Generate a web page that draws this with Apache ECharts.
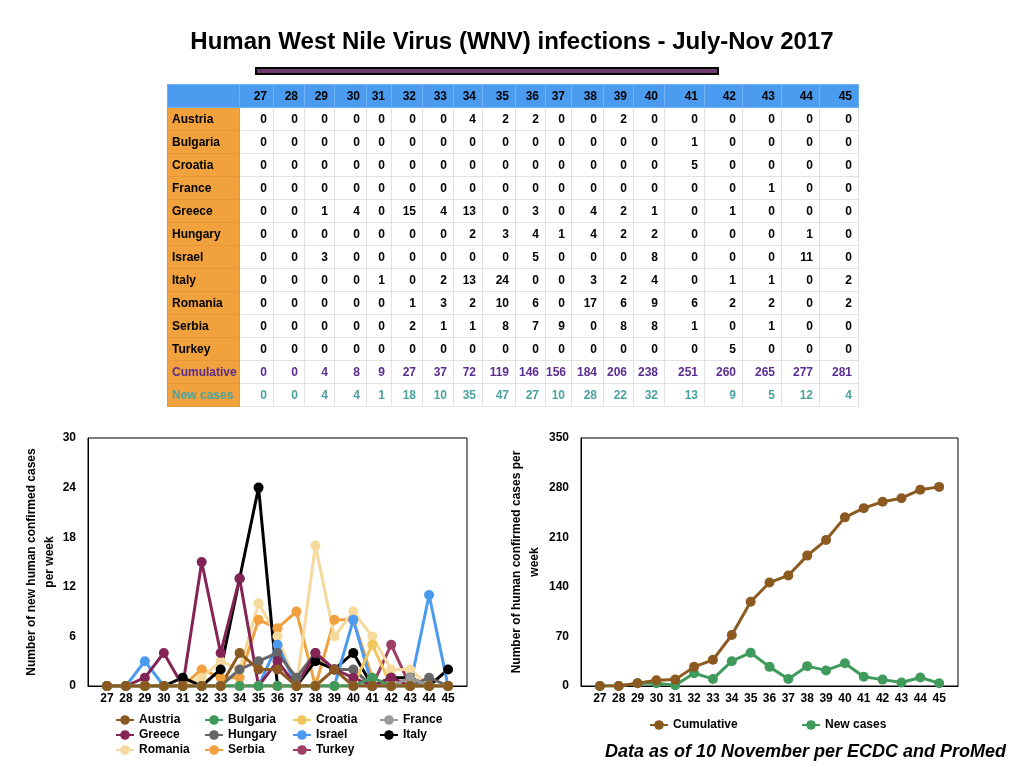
<!DOCTYPE html>
<html>
<head>
<meta charset="utf-8">
<script src="https://cdn.jsdelivr.net/npm/echarts@6/dist/echarts.min.js"></script>
<style>
  body { margin: 0; background: #fff; font-family: "Liberation Sans", Arial, sans-serif; }
  #main { position: absolute; left: 0; top: 0; width: 1024px; height: 768px; }
  #title { position: absolute; left: 0; top: 27px; width: 1024px; text-align: center;
           font-size: 24px; font-weight: bold; color: #000; z-index: 2; }
  #bar { position: absolute; left: 255px; top: 67px; width: 460px; height: 4px;
         background: #6e3a6e; border: 2px solid #000; z-index: 2; }
  #tbl { position: absolute; left: 167px; top: 84px; width: 691px; z-index: 2; border-collapse: collapse;
         table-layout: fixed; font-size: 12px; font-weight: bold; }
  #tbl td { height: 22px; padding: 0 6px 0 0; text-align: right; border: 1px solid #e2e2e2;
            color: #000; background: #fff; overflow: hidden; white-space: nowrap; }
  #tbl tr.head td { background: #4b9cf0; border-color: #6fb0f4; }
  #tbl td.lbl { background: #f1a23d; text-align: left; padding-left: 4px; border-color: #e8963a; }
  #tbl tr.cum td { color: #5b2c92; }
  #tbl tr.newc td { color: #4aa39f; }
</style>
</head>
<body>
<div id="main"></div>
<div id="title">Human West Nile Virus (WNV) infections - July-Nov 2017</div>
<div id="bar"></div>
<table id="tbl"></table>
<script>
// ---- data ----
var weeks = [27, 28, 29, 30, 31, 32, 33, 34, 35, 36, 37, 38, 39, 40, 41, 42, 43, 44, 45];
var countries = ['Austria', 'Bulgaria', 'Croatia', 'France', 'Greece', 'Hungary', 'Israel', 'Italy', 'Romania', 'Serbia', 'Turkey'];

var austria  = [0, 0, 0, 0, 0, 0, 0, 4, 2, 2, 0, 0, 2, 0, 0, 0, 0, 0, 0];
var bulgaria = [0, 0, 0, 0, 0, 0, 0, 0, 0, 0, 0, 0, 0, 0, 1, 0, 0, 0, 0];
var croatia  = [0, 0, 0, 0, 0, 0, 0, 0, 0, 0, 0, 0, 0, 0, 5, 0, 0, 0, 0];
var france   = [0, 0, 0, 0, 0, 0, 0, 0, 0, 0, 0, 0, 0, 0, 0, 0, 1, 0, 0];
var greece   = [0, 0, 1, 4, 0, 15, 4, 13, 0, 3, 0, 4, 2, 1, 0, 1, 0, 0, 0];
var hungary  = [0, 0, 0, 0, 0, 0, 0, 2, 3, 4, 1, 4, 2, 2, 0, 0, 0, 1, 0];
var israel   = [0, 0, 3, 0, 0, 0, 0, 0, 0, 5, 0, 0, 0, 8, 0, 0, 0, 11, 0];
var italy    = [0, 0, 0, 0, 1, 0, 2, 13, 24, 0, 0, 3, 2, 4, 0, 1, 1, 0, 2];
var romania  = [0, 0, 0, 0, 0, 1, 3, 2, 10, 6, 0, 17, 6, 9, 6, 2, 2, 0, 2];
var serbia   = [0, 0, 0, 0, 0, 2, 1, 1, 8, 7, 9, 0, 8, 8, 1, 0, 1, 0, 0];
var turkey   = [0, 0, 0, 0, 0, 0, 0, 0, 0, 0, 0, 0, 0, 0, 0, 5, 0, 0, 0];

var cumulative = [0, 0, 4, 8, 9, 27, 37, 72, 119, 146, 156, 184, 206, 238, 251, 260, 265, 277, 281];
var newCases   = [0, 0, 4, 4, 1, 18, 10, 35, 47, 27, 10, 28, 22, 32, 13, 9, 5, 12, 4];

var leftTicks  = [0, 6, 12, 18, 24, 30];
var rightTicks = [0, 70, 140, 210, 280, 350];

var countryValues = [austria, bulgaria, croatia, france, greece, hungary, israel, italy, romania, serbia, turkey];
var countryColors = ['#8c5a20', '#3f9a5c', '#f0c65e', '#9a9a9a', '#842456', '#666666', '#4a9af0', '#000000', '#f6d99c', '#f0a03e', '#9e3d66'];

// ---- table ----
var colWidths = [34, 31, 30, 32, 25, 31, 31, 29, 33, 30, 26, 32, 30, 31, 40, 38, 39, 38, 39];
var tbl = document.getElementById('tbl');
var cg = document.createElement('colgroup');
[72].concat(colWidths).forEach(function (w) {
  var col = document.createElement('col');
  col.style.width = w + 'px';
  cg.appendChild(col);
});
tbl.appendChild(cg);
function addRow(label, values, cls) {
  var tr = document.createElement('tr');
  if (cls) tr.className = cls;
  var td = document.createElement('td');
  td.textContent = label;
  td.className = cls === 'head' ? '' : 'lbl';
  tr.appendChild(td);
  values.forEach(function (v) {
    var c = document.createElement('td');
    c.textContent = v;
    tr.appendChild(c);
  });
  tbl.appendChild(tr);
}
addRow('', weeks, 'head');
countries.forEach(function (n, i) { addRow(n, countryValues[i]); });
addRow('Cumulative', cumulative, 'cum');
addRow('New cases', newCases, 'newc');

// ---- charts ----
function pairs(arr) { return weeks.map(function (w, i) { return [w, arr[i]]; }); }

var font = '"Liberation Sans", Arial, sans-serif';
var lbl = { color: '#000', fontWeight: 'bold', fontSize: 12, fontFamily: font };

function xAxisFor(idx) {
  return {
    type: 'value', gridIndex: idx, min: 26, max: 46, interval: 1,
    axisLine: { show: true, lineStyle: { color: '#000', width: 1 } },
    axisTick: { show: false }, splitLine: { show: false },
    axisLabel: Object.assign({ margin: 7, formatter: function (v) { return (v < 27 || v > 45) ? '' : v; } }, lbl)
  };
}
function yAxisFor(idx, ticks, name, gap) {
  return {
    type: 'value', gridIndex: idx, min: ticks[0], max: ticks[ticks.length - 1],
    interval: ticks[1] - ticks[0],
    name: name, nameLocation: 'middle', nameGap: gap, nameRotate: 90,
    nameTextStyle: { color: '#000', fontWeight: 'bold', fontSize: 12, fontFamily: font, lineHeight: 18 },
    axisLine: { show: true, lineStyle: { color: '#000', width: 1 } },
    axisTick: { show: false }, splitLine: { show: false },
    axisLabel: Object.assign({ margin: 12 }, lbl)
  };
}

var series = [];
for (var i = countries.length - 1; i >= 0; i--) {
  series.push({
    name: countries[i], type: 'line', xAxisIndex: 0, yAxisIndex: 0,
    data: pairs(countryValues[i]), symbol: 'circle', symbolSize: 10,
    color: countryColors[i], lineStyle: { width: 3 }, animation: false
  });
}
series.push({
  name: 'Cumulative', type: 'line', xAxisIndex: 1, yAxisIndex: 1, z: 3,
  data: pairs(cumulative), symbol: 'circle', symbolSize: 10,
  color: '#8c5a20', lineStyle: { width: 3 }, animation: false
});
series.push({
  name: 'New cases', type: 'line', xAxisIndex: 1, yAxisIndex: 1, z: 2,
  data: pairs(newCases), symbol: 'circle', symbolSize: 10,
  color: '#3f9a5c', lineStyle: { width: 3 }, animation: false
});

function legendCol(names, left, top, orient) {
  return {
    data: names, left: left, top: top, orient: orient || 'vertical',
    itemGap: orient ? 20 : 3, itemWidth: 18, itemHeight: 12,
    textStyle: { color: '#000', fontWeight: 'bold', fontSize: 12, fontFamily: font },
    selectedMode: false
  };
}

var myChart = echarts.init(document.getElementById('main'));
myChart.setOption({
  animation: false,
  textStyle: { fontFamily: font },
  title: {
    text: 'Data as of 10 November per ECDC and ProMed',
    left: 600, top: 738,
    textStyle: { color: '#000', fontSize: 18, fontWeight: 'bold', fontStyle: 'italic', fontFamily: font }
  },
  grid: [
    { left: 88, top: 438, width: 379, height: 248, show: true, borderColor: '#000', borderWidth: 1 },
    { left: 581, top: 438, width: 377, height: 248, show: true, borderColor: '#000', borderWidth: 1 }
  ],
  xAxis: [xAxisFor(0), xAxisFor(1)],
  yAxis: [
    yAxisFor(0, leftTicks, 'Number of new human confirmed cases\nper week', 27),
    yAxisFor(1, rightTicks, 'Number of human confirmed cases per\nweek', 37)
  ],
  legend: [
    legendCol(['Austria', 'Greece', 'Romania'], 110, 709),
    legendCol(['Bulgaria', 'Hungary', 'Serbia'], 199, 709),
    legendCol(['Croatia', 'Israel', 'Turkey'], 287, 709),
    legendCol(['France', 'Italy'], 374, 709),
    legendCol(['Cumulative'], 644, 714, 'horizontal'),
    legendCol(['New cases'], 796, 714, 'horizontal')
  ],
  series: series
});
</script>
</body>
</html>
